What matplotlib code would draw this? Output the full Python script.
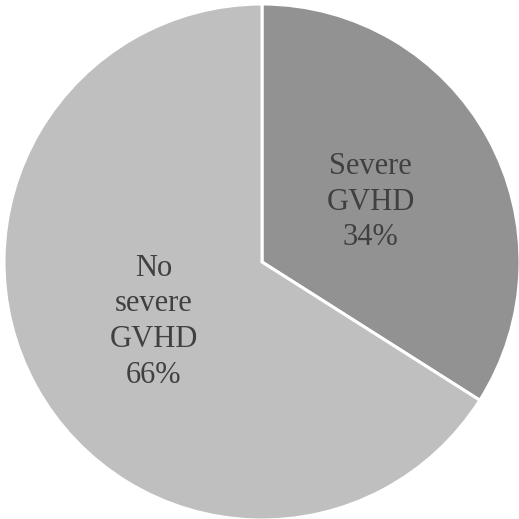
import matplotlib.pyplot as plt

labels = ["Severe\nGVHD\n34%", "No\nsevere\nGVHD\n66%"]
values = [34, 66]
colors = ["#929292", "#bfbfbf"]

fig = plt.figure(figsize=(5.19, 5.19), dpi=100)
ax = fig.add_axes([0, 0, 1, 1])
wedges, texts = ax.pie(values, labels=labels, colors=colors, startangle=90,
                       counterclock=False, labeldistance=0.48,
                       wedgeprops=dict(edgecolor="white", linewidth=2.2),
                       textprops=dict(fontsize=22, family="Liberation Serif",
                                      color="#404040", ha="center", va="center",
                                      linespacing=1.3))
for t in texts:
    t.set_multialignment("center")
ax.set_xlim(-262 / 258, 257 / 258)
ax.set_ylim(-257 / 258, 262 / 258)
ax.set_aspect("equal")
ax.axis("off")
fig.savefig("out.png", dpi=100)
